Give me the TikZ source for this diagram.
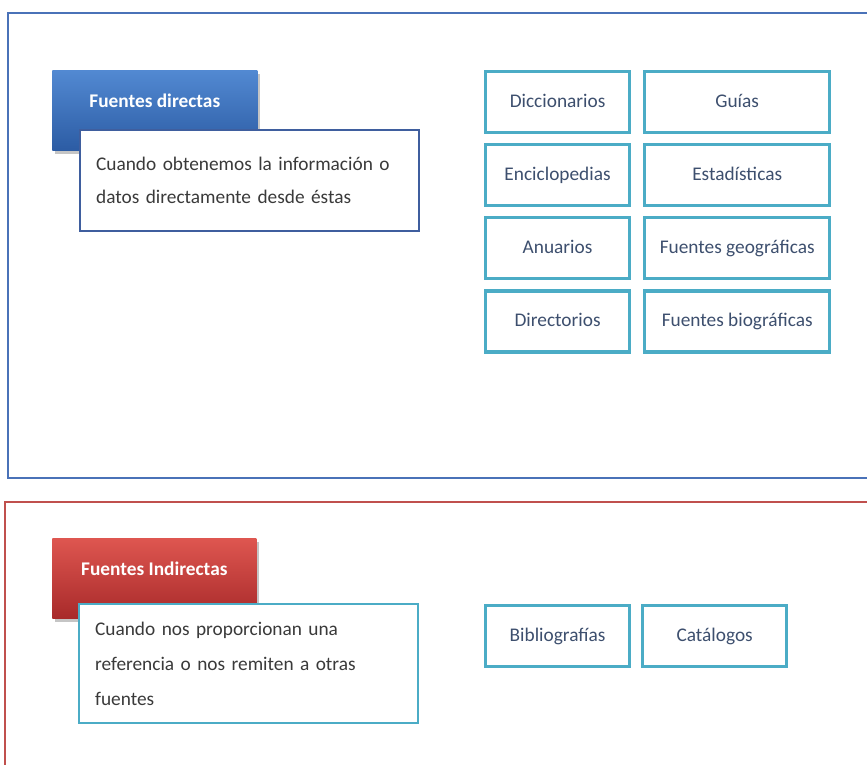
\documentclass[tikz,border=0pt]{standalone}
\usepackage{fontspec}
\setmainfont{Carlito}
\usetikzlibrary{positioning,shadows}
\definecolor{marcoazul}{HTML}{4A72B8}
\definecolor{marcorojo}{HTML}{C0504D}
\definecolor{turquesa}{HTML}{4BACC6}
\definecolor{bordeazul}{HTML}{3F5E9E}
\definecolor{textogris}{HTML}{3A3A3A}
\definecolor{textoazul}{HTML}{3D4F6E}
\definecolor{azularriba}{HTML}{5289D2}
\definecolor{azulabajo}{HTML}{2C5CA4}
\definecolor{rojoarriba}{HTML}{DE5650}
\definecolor{rojoabajo}{HTML}{A82A2A}
\begin{document}
\begin{tikzpicture}[x=0.02cm,y=-0.02cm]
		\tikzset{cab/.style={anchor=north west,minimum width=4.1cm,minimum height=1.6cm,text=white,font=\fontsize{11}{13}\selectfont\bfseries,text depth=0.4cm,shading=axis,drop shadow={opacity=0.45,shadow xshift=0.05cm,shadow yshift=-0.08cm}},
			desc/.style={anchor=north west,draw,line width=1.3pt,fill=white,text=textogris,align=left,text width=6.14cm,inner xsep=0.32cm,font=\fontsize{11}{18.8}\selectfont},
			fuente/.style={draw=turquesa,line width=1.8pt,fill=white,text=textoazul,minimum height=1.22cm,text height=1.6ex,text depth=0.4ex,font=\fontsize{11}{13}\selectfont},
			marco/.style={line width=1.4pt}}
		\clip (0,0) rectangle (867,765);
		\fill[white] (0,0) rectangle (867,765);
		\draw[marco,marcoazul] (8,13) rectangle (890,478);
		\draw[marco,marcorojo] (5,502) rectangle (890,790);

		% fuentes directas
		\node[cab,top color=azularriba,bottom color=azulabajo] (fd) at (52,70) {Fuentes directas};
		\node[desc,draw=bordeazul,minimum height=2.02cm] (dfd) at (79,129) {Cuando obtenemos la información o\\datos directamente desde éstas};

		\node[fuente,minimum width=2.88cm,anchor=north west] (dic) at (484,70) {Diccionarios};
		\node[fuente,minimum width=3.7cm] (gui) [right=0.24cm of dic] {Guías};
		\node[fuente,minimum width=2.88cm] (enc) [below=0.18cm of dic] {Enciclopedias};
		\node[fuente,minimum width=3.7cm] (est) [right=0.24cm of enc] {Estadísticas};
		\node[fuente,minimum width=2.88cm] (anu) [below=0.18cm of enc] {Anuarios};
		\node[fuente,minimum width=3.7cm] (geo) [right=0.24cm of anu] {Fuentes geográficas};
		\node[fuente,minimum width=2.88cm] (dir) [below=0.18cm of anu] {Directorios};
		\node[fuente,minimum width=3.7cm] (bio) [right=0.24cm of dir] {Fuentes biográficas};

		% fuentes indirectas
		\node[cab,minimum width=4.08cm,top color=rojoarriba,bottom color=rojoabajo] (fi) at (52,538) {Fuentes Indirectas};
		\node[desc,draw=turquesa,minimum height=2.38cm,font=\fontsize{11}{20}\selectfont] (dfi) at (78,603) {Cuando nos proporcionan una\\referencia o nos remiten a otras\\fuentes};

		\node[fuente,minimum width=2.88cm,anchor=north west] (bib) at (484,604) {Bibliografías};
		\node[fuente,minimum width=2.88cm] (cat) [right=0.2cm of bib] {Catálogos};
\end{tikzpicture}
\end{document}
